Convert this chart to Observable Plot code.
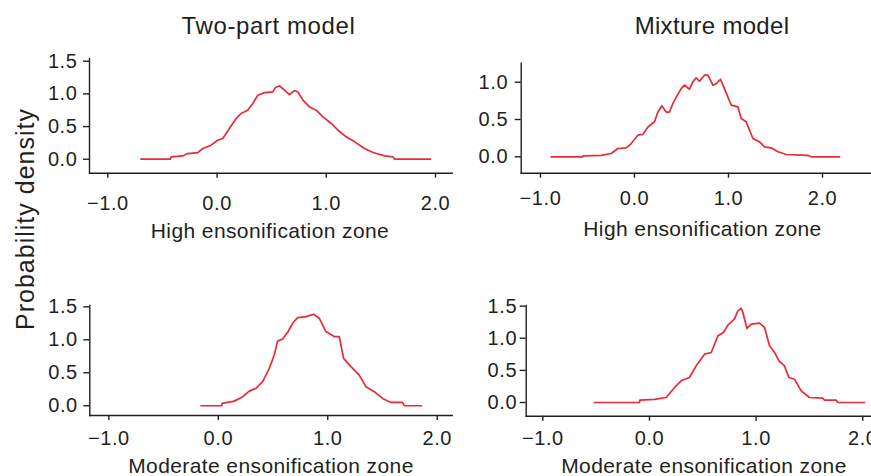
<!DOCTYPE html>
<html>
<head>
<meta charset="utf-8">
<script src="https://cdn.jsdelivr.net/npm/d3@7"></script>
<script src="https://cdn.jsdelivr.net/npm/@observablehq/plot@0.6"></script>
<style>
  html, body { margin: 0; padding: 0; background: #fff; }
  #root { position: relative; width: 871px; height: 476px; overflow: hidden; background: #fff; }
  .panel { position: absolute; }
  #labels { position: absolute; left: 0; top: 0; }
</style>
</head>
<body>
<div id="root"></div>
<script>
// ---- Data ----
const columnTitles = ["Two-part model", "Mixture model"];
const xLabels = ["High ensonification zone", "Moderate ensonification zone"];
const yLabel = "Probability density";
const xTicks = [-1, 0, 1, 2];
const yTicksFull = [0, 0.5, 1, 1.5];
const yTicksShort = [0, 0.5, 1];

// Two-part model, high ensonification zone
const twoPartHighX = [-0.697,-0.428,-0.42,-0.315,-0.27,-0.177,-0.13,-0.055,0.006,0.052,0.113,0.174,0.22,0.28,0.327,0.373,0.434,0.511,0.532,0.572,0.617,0.663,0.709,0.74,0.786,0.847,0.908,0.97,1.046,1.107,1.183,1.26,1.35,1.428,1.535,1.61,1.627,1.954];
const twoPartHighY = [0,0,0.036,0.05,0.087,0.10,0.164,0.215,0.29,0.317,0.47,0.623,0.70,0.75,0.853,0.98,1.02,1.03,1.093,1.124,1.057,0.99,1.052,1.03,0.904,0.80,0.75,0.649,0.547,0.444,0.343,0.266,0.164,0.103,0.052,0.037,0,0];

// Mixture model, high ensonification zone
const mixtureHighX = [-0.886,-0.549,-0.545,-0.354,-0.248,-0.177,-0.088,-0.035,0.036,0.089,0.143,0.213,0.249,0.291,0.337,0.372,0.408,0.444,0.497,0.532,0.585,0.621,0.656,0.691,0.745,0.781,0.834,0.869,0.915,0.957,1.029,1.1,1.135,1.188,1.26,1.33,1.383,1.454,1.526,1.614,1.844,1.88,2.18];
const mixtureHighY = [0,0,0.013,0.02,0.044,0.111,0.12,0.178,0.29,0.30,0.40,0.47,0.60,0.684,0.60,0.60,0.714,0.80,0.915,0.96,0.906,1.005,1.059,1.013,1.094,1.094,0.96,0.98,1.04,0.915,0.692,0.67,0.513,0.469,0.245,0.20,0.134,0.12,0.067,0.031,0.02,0,0];

// Two-part model, moderate ensonification zone
const twoPartModX = [-0.158,0.031,0.035,0.146,0.223,0.283,0.344,0.405,0.466,0.511,0.542,0.588,0.634,0.679,0.725,0.801,0.871,0.922,0.983,1.059,1.105,1.145,1.212,1.288,1.349,1.425,1.501,1.577,1.684,1.699,1.857];
const twoPartModY = [0,0,0.035,0.07,0.137,0.222,0.263,0.365,0.567,0.769,0.98,1.012,1.114,1.25,1.337,1.352,1.388,1.327,1.125,1.049,1.049,0.719,0.593,0.465,0.289,0.213,0.111,0.05,0.05,0,0];

// Mixture model, moderate ensonification zone
const mixtureModX = [-0.516,-0.094,-0.09,0.047,0.157,0.235,0.297,0.375,0.438,0.516,0.579,0.642,0.694,0.735,0.797,0.829,0.86,0.876,0.914,0.954,1.032,1.079,1.126,1.173,1.214,1.266,1.307,1.36,1.423,1.501,1.627,1.642,1.751,1.767,2.017];
const mixtureModY = [0,0,0.036,0.05,0.078,0.234,0.338,0.39,0.571,0.753,0.779,1.039,1.09,1.204,1.298,1.428,1.464,1.402,1.153,1.22,1.235,1.168,0.883,0.779,0.65,0.571,0.39,0.363,0.182,0.078,0.067,0.036,0.036,0,0];

// ---- Drawing ----
const INK = "#231f20";
const RED = "#ea2a36";
const FONT = "'Liberation Sans', Arial, Helvetica, sans-serif";
const root = document.getElementById("root");
const fmt = d3.format(".1f");

function panel(cfg) {
  const data = cfg.x.map((v, i) => ({x: v, y: cfg.y[i]}));
  const svg = Plot.plot({
    width: cfg.width,
    height: cfg.height,
    marginLeft: cfg.ml, marginRight: cfg.mr, marginTop: cfg.mt, marginBottom: cfg.mb,
    x: {domain: cfg.xDomain},
    y: {domain: cfg.yDomain},
    style: {fontFamily: FONT, fontSize: "20px", color: INK, background: "transparent", letterSpacing: "0.6px", overflow: "visible"},
    marks: [
      Plot.frame({anchor: "left", stroke: INK, strokeWidth: 1.4}),
      Plot.frame({anchor: "bottom", stroke: INK, strokeWidth: 1.4}),
      Plot.axisX(xTicks, {tickSize: 5, tickPadding: cfg.xPad, tickFormat: fmt, label: null, fontSize: 20, strokeWidth: 1.4}),
      Plot.axisY(cfg.yTicks, {tickSize: 6, tickPadding: cfg.yPad, tickFormat: fmt, label: null, fontSize: 20, strokeWidth: 1.4}),
      Plot.line(data, {x: "x", y: "y", stroke: RED, strokeWidth: 1.7})
    ]
  });
  svg.classList.add("panel");
  svg.style.left = cfg.left + "px";
  svg.style.top = cfg.top + "px";
  root.appendChild(svg);
}

panel({x: twoPartHighX, y: twoPartHighY, xDomain: [-1.168, 2.153], yDomain: [-0.214, 1.542], yTicks: yTicksFull,
  left: 0, top: 40, width: 460, height: 210, ml: 89, mr: 8.3, mt: 18, mb: 77.3, xPad: 18, yPad: 6});
panel({x: mixtureHighX, y: mixtureHighY, xDomain: [-1.205, 2.521], yDomain: [-0.22, 1.255], yTicks: yTicksShort,
  left: 460, top: 40, width: 411, height: 210, ml: 60.7, mr: 0, mt: 22.7, mb: 77.3, xPad: 13, yPad: 7});
panel({x: twoPartModX, y: twoPartModY, xDomain: [-1.174, 2.137], yDomain: [-0.148, 1.52], yTicks: yTicksFull,
  left: 0, top: 290, width: 460, height: 186, ml: 89.3, mr: 8.3, mt: 15, mb: 61, xPad: 10.5, yPad: 6});
panel({x: mixtureModX, y: mixtureModY, xDomain: [-1.156, 2.082], yDomain: [-0.213, 1.51], yTicks: yTicksFull,
  left: 460, top: 290, width: 411, height: 186, ml: 65.7, mr: 0, mt: 15, mb: 60.3, xPad: 10, yPad: 3});

// ---- Titles and axis labels ----
const ov = d3.select(root).append("svg")
  .attr("id", "labels").attr("width", 871).attr("height", 476)
  .style("font-family", FONT).style("fill", INK);

const texts = [
  {t: columnTitles[0], x: 268.5, y: 33.5, s: 24, ls: 0.6},
  {t: columnTitles[1], x: 712, y: 33.5, s: 24, ls: 0.3},
  {t: xLabels[0], x: 270, y: 238, s: 21, ls: 0.4},
  {t: xLabels[0], x: 702.5, y: 236, s: 21, ls: 0.4},
  {t: xLabels[1], x: 271, y: 473, s: 21, ls: 0.4},
  {t: xLabels[1], x: 704, y: 473, s: 21, ls: 0.4}
];
texts.forEach(d => {
  ov.append("text").attr("x", d.x).attr("y", d.y).attr("text-anchor", "middle")
    .style("font-size", d.s + "px").style("letter-spacing", d.ls + "px").text(d.t);
});
ov.append("text").attr("transform", "translate(33.5,219) rotate(-90)").attr("text-anchor", "middle")
  .style("font-size", "25px").style("letter-spacing", "1px").text(yLabel);
</script>
</body>
</html>
